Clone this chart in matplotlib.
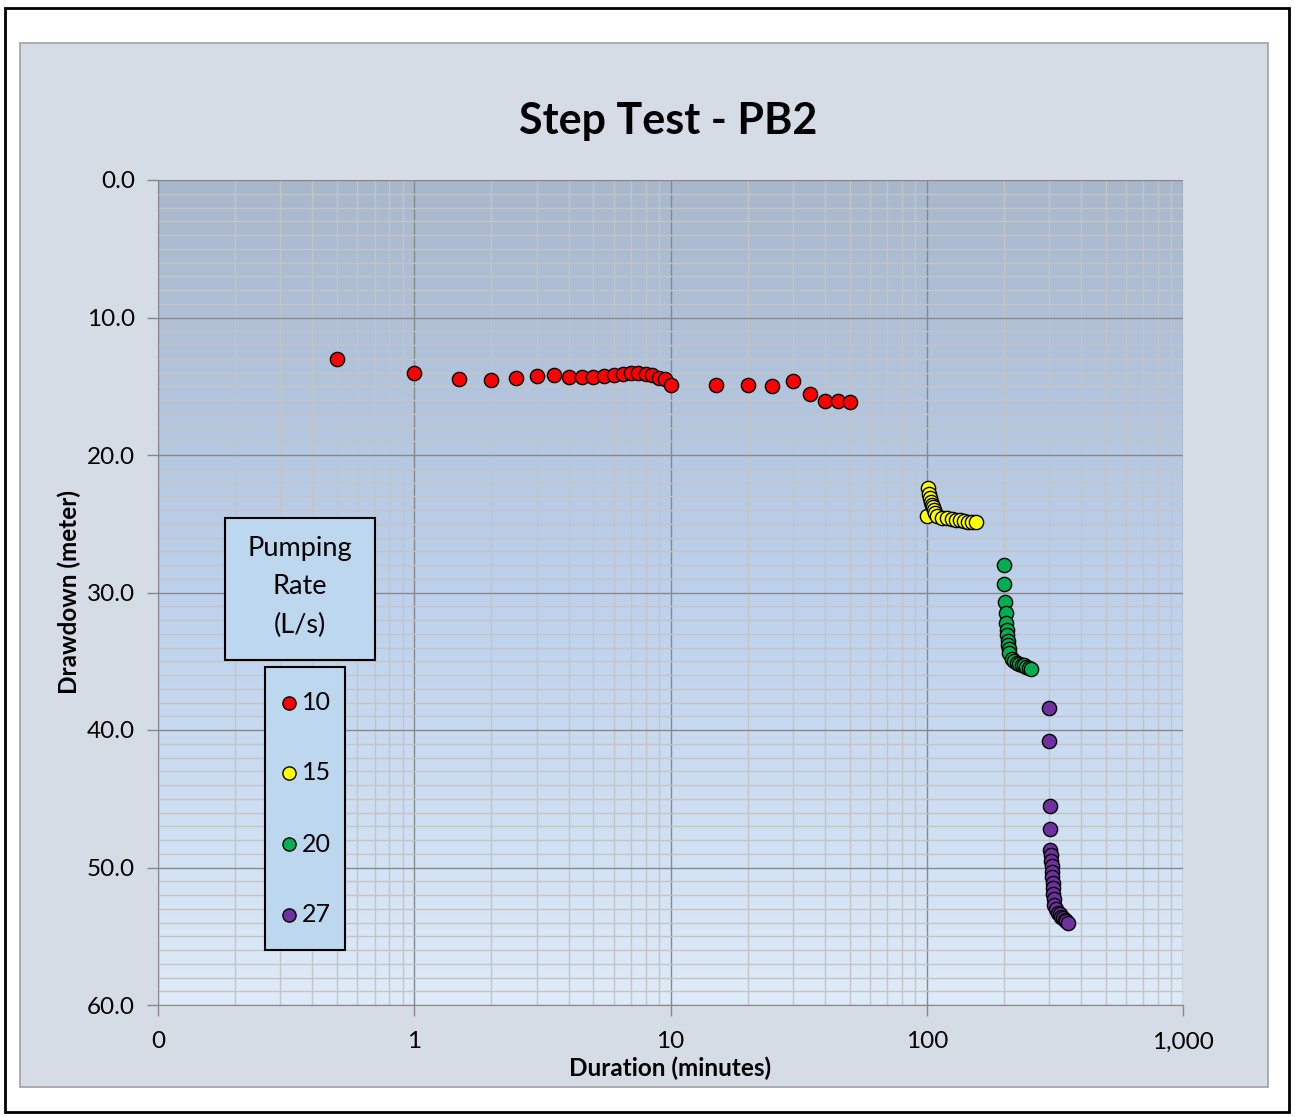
import numpy as np
import matplotlib.pyplot as plt
import matplotlib.patches as patches
from matplotlib.lines import Line2D
from matplotlib.ticker import FixedLocator, NullFormatter, MultipleLocator

plt.rcParams['font.family'] = ['Lato', 'DejaVu Sans']

# step 1 - 10 L/s
t_10 = [0.5, 1, 1.5, 2, 2.5, 3, 3.5, 4, 4.5, 5, 5.5, 6, 6.5, 7, 7.5, 8, 8.5, 9, 9.5, 10,
        15, 20, 25, 30, 35, 40, 45, 50]
dd_10 = [13.0, 14.0, 14.45, 14.55, 14.4, 14.23, 14.2, 14.3, 14.35, 14.33, 14.25, 14.16, 14.09,
         14.04, 14.06, 14.09, 14.18, 14.38, 14.5, 14.9,
         14.89, 14.9, 14.98, 14.62, 15.59, 16.05, 16.1, 16.15]

# step 2 - 15 L/s
t_15 = [100, 101, 102, 103, 104, 105, 106, 107, 108, 110, 115, 120, 125, 130, 135, 140,
        145, 150, 155]
dd_15 = [24.4, 22.4, 22.8, 23.1, 23.4, 23.6, 23.8, 24.0, 24.2, 24.45, 24.55, 24.6, 24.65,
         24.7, 24.75, 24.8, 24.85, 24.85, 24.85]

# step 3 - 20 L/s
t_20 = [200, 201, 202, 203, 204, 205, 206, 207, 208, 209, 210, 215, 220, 225, 230, 235,
        240, 245, 250, 255]
dd_20 = [28.0, 29.4, 30.7, 31.5, 32.2, 32.7, 33.1, 33.5, 33.8, 34.1, 34.4, 34.8, 35.0, 35.1,
         35.2, 35.3, 35.3, 35.4, 35.5, 35.55]

# step 4 - 27 L/s
t_27 = [300, 301, 302, 303, 304, 305, 306, 307, 308, 309, 310, 311, 312, 313, 315, 320,
        325, 330, 335, 340, 345, 350, 355]
dd_27 = [38.4, 40.8, 45.5, 47.2, 48.7, 49.1, 49.5, 49.9, 50.3, 50.7, 51.1, 51.5, 51.9, 52.3,
         52.7, 53.0, 53.3, 53.4, 53.6, 53.7, 53.8, 53.9, 54.0]

rates = ['10', '15', '20', '27']
colors = ['#FF0000', '#FFFF00', '#00B050', '#7030A0']

x_ticks = [0.1, 1, 10, 100, 1000]
x_labels = ['0', '1', '10', '100', '1,000']
y_ticks = [0, 10, 20, 30, 40, 50, 60]

W, H = 1295, 1117
fig = plt.figure(figsize=(W / 100, H / 100), dpi=100)

def fx(px):
    return px / W

def fy(py):
    return 1 - py / H

# outer frame and chart area
fig.patches.append(patches.Rectangle((fx(5), fy(1112)), fx(1289) - fx(5), fy(8) - fy(1112),
                                     transform=fig.transFigure, facecolor='white',
                                     edgecolor='black', linewidth=2, zorder=-3))
fig.patches.append(patches.Rectangle((fx(20), fy(1087)), fx(1268) - fx(20), fy(43) - fy(1087),
                                     transform=fig.transFigure, facecolor='#D5DCE6',
                                     edgecolor='#A0A0A0', linewidth=1.2, zorder=-2))

ax = fig.add_axes([fx(158), fy(1005), fx(1183) - fx(158), fy(180) - fy(1005)])
ax.set_facecolor('none')

# vertical gradient fill of the plot area
grad = np.linspace(0, 1, 256).reshape(-1, 1)
top = np.array([0.66, 0.72, 0.80])
bot = np.array([0.87, 0.92, 0.97])
mid = np.array([0.74, 0.82, 0.93])
rgb = np.where(grad[..., None] < 0.5,
               top + (mid - top) * (grad[..., None] / 0.5),
               mid + (bot - mid) * ((grad[..., None] - 0.5) / 0.5))
ax.imshow(rgb, extent=[0, 1, 0, 1], transform=ax.transAxes, aspect='auto',
          origin='upper', zorder=0)

series = [(t_10, dd_10), (t_15, dd_15), (t_20, dd_20), (t_27, dd_27)]
for (t, dd), c in zip(series, colors):
    ax.scatter(t, dd, s=105, c=c, edgecolors='black', linewidths=1.0, zorder=3)

ax.set_xscale('log')
ax.set_xlim(0.1, 1000)
ax.set_ylim(60, 0)

ax.xaxis.set_major_locator(FixedLocator(x_ticks))
ax.set_xticklabels(x_labels)
minor_x = [m * 10.0 ** e for e in range(-1, 3) for m in range(2, 10)]
ax.xaxis.set_minor_locator(FixedLocator(minor_x))
ax.xaxis.set_minor_formatter(NullFormatter())
ax.set_yticks(y_ticks)
ax.set_yticklabels(['%.1f' % v for v in y_ticks])
ax.yaxis.set_minor_locator(MultipleLocator(1))

ax.grid(which='major', color='#888888', linewidth=1.0)
ax.grid(which='minor', color='#C4C4C4', linewidth=1.0)
ax.tick_params(which='major', direction='out', length=8, width=1, color='#888888',
               labelsize=17.5)
ax.tick_params(which='minor', length=0)
ax.tick_params(axis='y', pad=8.5)
ax.tick_params(axis='x', pad=11)
for side in ['top', 'right']:
    ax.spines[side].set_visible(False)
for side in ['left', 'bottom']:
    ax.spines[side].set_color('#888888')

ax.set_xlabel('Duration (minutes)', fontsize=17.5, fontweight='bold', labelpad=3)
ax.set_ylabel('Drawdown (meter)', fontsize=17.5, fontweight='bold', labelpad=4)
fig.text(fx(668), fy(121), 'Step Test - PB2', fontsize=31, fontweight='bold',
         ha='center', va='center')

# legend caption box
fig.patches.append(patches.Rectangle((fx(225), fy(660)), fx(375) - fx(225), fy(518) - fy(660),
                                     transform=fig.transFigure, facecolor='#BDD7EE',
                                     edgecolor='black', linewidth=1.5, zorder=5))
fig.text(fx(300), fy(587), 'Pumping\nRate\n(L/s)', fontsize=19.5, ha='center', va='center',
         linespacing=1.68, zorder=6)

# legend box with one marker per pumping rate
fig.patches.append(patches.Rectangle((fx(265), fy(950)), fx(345) - fx(265), fy(667) - fy(950),
                                     transform=fig.transFigure, facecolor='#BDD7EE',
                                     edgecolor='black', linewidth=1.5, zorder=5))
row_y = [703, 773, 844, 915]
for lab, c, py in zip(rates, colors, row_y):
    fig.add_artist(Line2D([fx(289)], [fy(py)], transform=fig.transFigure, linestyle='none',
                          marker='o', markersize=9.5, markerfacecolor=c,
                          markeredgecolor='black', markeredgewidth=1.0, zorder=6))
    fig.text(fx(302), fy(py), lab, fontsize=18, ha='left', va='center', zorder=6)

fig.savefig('out.png', dpi=100)
